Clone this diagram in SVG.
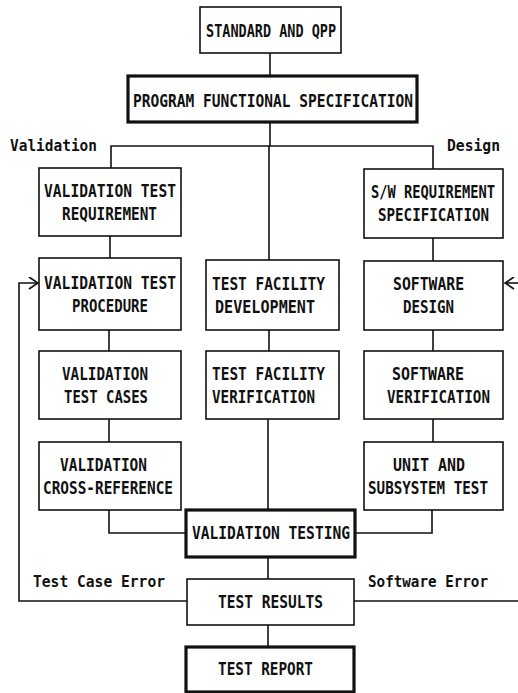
<svg xmlns="http://www.w3.org/2000/svg" width="518" height="693" viewBox="0 0 518 693">
<defs>
<style>
.box{fill:#fff;stroke:#111;stroke-width:1.6}
.thick{stroke-width:3.2}
.t{font-family:"DejaVu Sans Mono","Liberation Mono",monospace;font-weight:bold;font-size:14.5px;fill:#111}
.l{font-family:"DejaVu Sans Mono","Liberation Mono",monospace;font-weight:bold;font-size:14.6px;fill:#111}
.c{fill:none;stroke:#111;stroke-width:1.6}
</style>
<marker id="chev" markerUnits="userSpaceOnUse" viewBox="0 0 11 13" refX="10" refY="6.5" markerWidth="11" markerHeight="13" orient="auto">
<path d="M1,0.5 L10,6.5 L1,12.5" fill="none" stroke="#111" stroke-width="1.7"/>
</marker>
</defs>
<rect width="518" height="693" fill="#fff"/>
<g id="connectors">
<path class="c" d="M270,53 V76"/>
<path class="c" d="M270,122 V146"/>
<path class="c" d="M111,168 V146 H433 V169"/>
<path class="c" d="M269,146 V260"/>
<path class="c" d="M110,236 V258"/>
<path class="c" d="M109,330 V351"/>
<path class="c" d="M109,419 V442"/>
<path class="c" d="M109,510 V533 H186"/>
<path class="c" d="M433,238 V261"/>
<path class="c" d="M433,330 V351"/>
<path class="c" d="M433,419 V442"/>
<path class="c" d="M432,510 V533 H355"/>
<path class="c" d="M269,330 V351"/>
<path class="c" d="M268,419 V510"/>
<path class="c" d="M268,557 V579"/>
<path class="c" d="M268,625 V647"/>
<path class="c" d="M187,601 H19 V283 H38" marker-end="url(#chev)"/>
<path class="c" d="M354,601 H518"/>
<path class="c" d="M518,283 H505" marker-end="url(#chev)"/>
</g>
<g id="labels">
<text class="l" transform="translate(10,151) scale(1,1.13)" textLength="87" lengthAdjust="spacingAndGlyphs">Validation</text>
<text class="l" transform="translate(447,151) scale(1,1.13)" textLength="53" lengthAdjust="spacingAndGlyphs">Design</text>
<text class="l" transform="translate(33,587) scale(1,1.13)" textLength="132" lengthAdjust="spacingAndGlyphs">Test Case Error</text>
<text class="l" transform="translate(368,587) scale(1,1.13)" textLength="120" lengthAdjust="spacingAndGlyphs">Software Error</text>
</g>
<g id="n_standard">
<rect class="box" x="200" y="7" width="141" height="46"/>
<text class="t" transform="translate(206,37) scale(1,1.2)" textLength="130" lengthAdjust="spacingAndGlyphs">STANDARD AND QPP</text>
</g>
<g id="n_pfs">
<rect class="box thick" x="128" y="76" width="289" height="46"/>
<text class="t" transform="translate(133,107) scale(1,1.2)" textLength="280" lengthAdjust="spacingAndGlyphs">PROGRAM FUNCTIONAL SPECIFICATION</text>
</g>
<g id="n_vtr">
<rect class="box" x="39" y="168" width="142" height="68"/>
<text class="t" transform="translate(44,197) scale(1,1.2)" textLength="132" lengthAdjust="spacingAndGlyphs">VALIDATION TEST</text>
<text class="t" transform="translate(62,220) scale(1,1.2)" textLength="95" lengthAdjust="spacingAndGlyphs">REQUIREMENT</text>
</g>
<g id="n_swrs">
<rect class="box" x="364" y="169" width="139" height="69"/>
<text class="t" transform="translate(371,198) scale(1,1.2)" textLength="124" lengthAdjust="spacingAndGlyphs">S/W REQUIREMENT</text>
<text class="t" transform="translate(378,221) scale(1,1.2)" textLength="111" lengthAdjust="spacingAndGlyphs">SPECIFICATION</text>
</g>
<g id="n_vtp">
<rect class="box" x="39" y="258" width="142" height="72"/>
<text class="t" transform="translate(44,289) scale(1,1.2)" textLength="132" lengthAdjust="spacingAndGlyphs">VALIDATION TEST</text>
<text class="t" transform="translate(72,312) scale(1,1.2)" textLength="76" lengthAdjust="spacingAndGlyphs">PROCEDURE</text>
</g>
<g id="n_tfd">
<rect class="box" x="206" y="260" width="133" height="70"/>
<text class="t" transform="translate(212,290) scale(1,1.2)" textLength="113" lengthAdjust="spacingAndGlyphs">TEST FACILITY</text>
<text class="t" transform="translate(215,313) scale(1,1.2)" textLength="100" lengthAdjust="spacingAndGlyphs">DEVELOPMENT</text>
</g>
<g id="n_swd">
<rect class="box" x="364" y="261" width="139" height="69"/>
<text class="t" transform="translate(393,290) scale(1,1.2)" textLength="71" lengthAdjust="spacingAndGlyphs">SOFTWARE</text>
<text class="t" transform="translate(403,313) scale(1,1.2)" textLength="51" lengthAdjust="spacingAndGlyphs">DESIGN</text>
</g>
<g id="n_vtc">
<rect class="box" x="39" y="351" width="142" height="68"/>
<text class="t" transform="translate(62,380) scale(1,1.2)" textLength="86" lengthAdjust="spacingAndGlyphs">VALIDATION</text>
<text class="t" transform="translate(64,403) scale(1,1.2)" textLength="84" lengthAdjust="spacingAndGlyphs">TEST CASES</text>
</g>
<g id="n_tfv">
<rect class="box" x="206" y="351" width="133" height="68"/>
<text class="t" transform="translate(212,380) scale(1,1.2)" textLength="113" lengthAdjust="spacingAndGlyphs">TEST FACILITY</text>
<text class="t" transform="translate(212,403) scale(1,1.2)" textLength="103" lengthAdjust="spacingAndGlyphs">VERIFICATION</text>
</g>
<g id="n_swv">
<rect class="box" x="364" y="351" width="139" height="68"/>
<text class="t" transform="translate(392,380) scale(1,1.2)" textLength="72" lengthAdjust="spacingAndGlyphs">SOFTWARE</text>
<text class="t" transform="translate(387,403) scale(1,1.2)" textLength="103" lengthAdjust="spacingAndGlyphs">VERIFICATION</text>
</g>
<g id="n_vcr">
<rect class="box" x="39" y="442" width="142" height="68"/>
<text class="t" transform="translate(60,471) scale(1,1.2)" textLength="87" lengthAdjust="spacingAndGlyphs">VALIDATION</text>
<text class="t" transform="translate(43,494) scale(1,1.2)" textLength="130" lengthAdjust="spacingAndGlyphs">CROSS-REFERENCE</text>
</g>
<g id="n_ust">
<rect class="box" x="364" y="442" width="139" height="68"/>
<text class="t" transform="translate(393,471) scale(1,1.2)" textLength="72" lengthAdjust="spacingAndGlyphs">UNIT AND</text>
<text class="t" transform="translate(368,494) scale(1,1.2)" textLength="120" lengthAdjust="spacingAndGlyphs">SUBSYSTEM TEST</text>
</g>
<g id="n_vt">
<rect class="box thick" x="186" y="510" width="169" height="47"/>
<text class="t" transform="translate(192,539) scale(1,1.2)" textLength="158" lengthAdjust="spacingAndGlyphs">VALIDATION TESTING</text>
</g>
<g id="n_tres">
<rect class="box" x="187" y="579" width="167" height="46"/>
<text class="t" transform="translate(218,608) scale(1,1.2)" textLength="105" lengthAdjust="spacingAndGlyphs">TEST RESULTS</text>
</g>
<g id="n_trep">
<rect class="box thick" x="186" y="647" width="168" height="45"/>
<text class="t" transform="translate(218,675) scale(1,1.2)" textLength="95" lengthAdjust="spacingAndGlyphs">TEST REPORT</text>
</g>
</svg>
